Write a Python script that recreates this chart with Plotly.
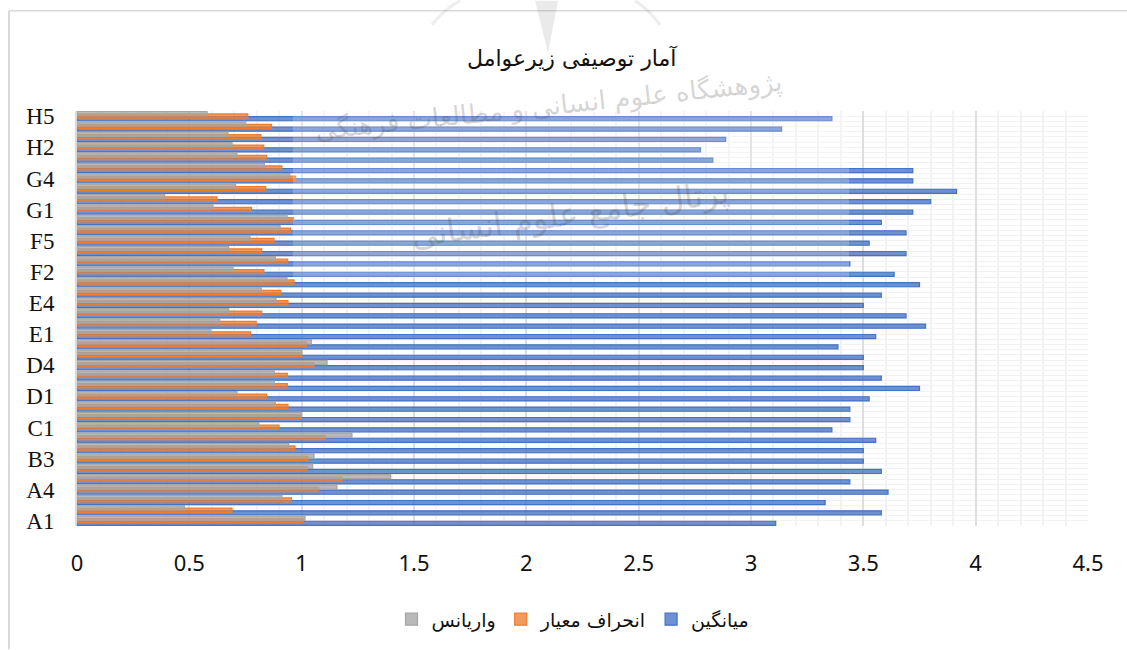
import plotly.graph_objects as go

categories = ["A1","A2","A3","A4","B1","B2","B3","B4","B5","C1","C2","C3","D1","D2","D3","D4","D5","D6",
              "E1","E2","E3","E4","E5","F1","F2","F3","F4","F5","F6","F7","G1","G2","G3","G4","G5","H1","H2","H3","H4","H5"]
tick_labels = ["A1","A4","B3","C1","D1","D4","E1","E4","F2","F5","G1","G4","H2","H5"]
mean_values = [3.11,3.58,3.33,3.61,3.44,3.58,3.50,3.50,3.555,3.36,3.44,3.44,3.526,3.75,3.58,3.50,3.50,3.387,
               3.555,3.777,3.69,3.50,3.58,3.75,3.637,3.44,3.69,3.526,3.69,3.58,3.72,3.80,3.915,3.72,3.72,2.83,2.775,2.887,3.136,3.36]
std_values = [1.007,0.69,0.955,1.076,1.18,1.024,1.028,0.97,1.105,0.899,0.998,0.939,0.844,0.936,0.936,1.055,1.0,1.021,
              0.772,0.797,0.822,0.939,0.907,0.966,0.832,0.938,0.822,0.877,0.95,0.964,0.777,0.623,0.84,0.973,0.912,0.844,0.831,0.819,0.866,0.76]
var_values = [1.015,0.478,0.912,1.157,1.396,1.049,1.055,0.942,1.224,0.809,0.998,0.883,0.712,0.878,0.878,1.113,1.0,1.043,
              0.596,0.635,0.675,0.886,0.82,0.935,0.694,0.883,0.675,0.77,0.904,0.935,0.605,0.39,0.706,0.947,0.834,0.712,0.69,0.672,0.751,0.579]
title_text = "آمار توصیفی زیرعوامل"
series_names = ["میانگین", "انحراف معیار", "واریانس"]
watermark_1 = "پژوهشگاه علوم انسانی و مطالعات فرهنگی"
watermark_2 = "پرتال جامع علوم انسانی"

W, H = 1127, 650
L, R, T, B = 77, 1088, 110.5, 526.5
def px(x): return (x - L) / (R - L)
def py(y): return (B - y) / (B - T)

y_pos = list(range(len(categories)))
tick_pos = [categories.index(c) for c in tick_labels]

fig = go.Figure()
styles = [("rgba(68,114,196,0.78)", "#4472C4", -0.44),
          ("rgba(237,125,49,0.78)", "#ED7D31", -0.18),
          ("rgba(165,165,165,0.78)", "#A5A5A5", 0.06)]
for name, vals, (fill, line, off) in zip(series_names, [mean_values, std_values, var_values], styles):
    fig.add_trace(go.Bar(y=y_pos, x=vals, name=name, orientation="h", width=0.40, offset=off,
                         text=categories, textposition="none",
                         marker=dict(color=fill, line=dict(color=line, width=1.2))))

wm = "rgba(70,70,70,0.24)"
shapes = [
    dict(type="line", xref="paper", yref="paper", x0=px(9), x1=px(9), y0=py(10), y1=py(650),
         line=dict(color="#d9d9d9", width=2), layer="above"),
    dict(type="line", xref="paper", yref="paper", x0=px(9), x1=px(1127), y0=py(10), y1=py(10),
         line=dict(color="#d9d9d9", width=1.5), layer="above"),
    dict(type="rect", xref="paper", yref="paper", x0=px(293), x1=px(849), y0=py(278), y1=py(108),
         fillcolor="rgba(255,255,255,0.2)", line=dict(width=0), layer="above"),
    dict(type="path", xref="paper", yref="paper", layer="above", fillcolor="rgba(80,80,80,0.12)", line=dict(width=0),
         path=f"M {px(535)} {py(0)} L {px(548)} {py(52)} L {px(558)} {py(0)} Z"),
    dict(type="path", xref="paper", yref="paper", layer="above", line=dict(color="rgba(80,80,80,0.10)", width=3),
         path=f"M {px(432)} {py(24)} Q {px(445)} {py(8)} {px(460)} {py(0)}"),
    dict(type="path", xref="paper", yref="paper", layer="above", line=dict(color="rgba(80,80,80,0.10)", width=3),
         path=f"M {px(660)} {py(24)} Q {px(648)} {py(8)} {px(635)} {py(0)}"),
]

def note(text, x, y, size, color, angle=0):
    return dict(text=text, xref="paper", yref="paper", x=px(x), y=py(y), xanchor="center", yanchor="middle",
                showarrow=False, textangle=angle, font=dict(family="DejaVu Sans", size=size, color=color))

fig.update_layout(
    width=W, height=H, autosize=False,
    margin=dict(l=L, r=W - R, t=T, b=H - B, pad=0),
    paper_bgcolor="white", plot_bgcolor="white",
    barmode="overlay", shapes=shapes,
    font=dict(family="Liberation Serif, DejaVu Sans", color="#111111"),
    legend=dict(orientation="h", traceorder="reversed", x=px(573), xanchor="center", y=py(620), yanchor="middle",
                font=dict(family="DejaVu Sans", size=19, color="#111111"), itemclick=False),
    annotations=[
        note(title_text, 572, 57, 22, "#111111"),
        note(watermark_1, 548, 106, 26, wm, -6),
        note(watermark_2, 570, 214, 32, wm, -8),
    ],
    xaxis=dict(range=[0, 4.5], dtick=0.5, tick0=0, showgrid=True, gridcolor="#dedede", gridwidth=1.6,
               zeroline=False, showline=False, ticks="outside", ticklen=18, tickcolor="rgba(0,0,0,0)",
               tickfont=dict(family="Noto Sans", size=22, color="#111111"),
               minor=dict(dtick=0.1, tick0=0, showgrid=True, gridcolor="#f2f2f2", gridwidth=1.5, ticks="")),
    yaxis=dict(range=[-0.5, 39.5], tickmode="array", tickvals=tick_pos, ticktext=tick_labels,
               showgrid=False, zeroline=False, showline=True, linecolor="#d9d9d9", linewidth=2,
               ticks="outside", ticklen=16, tickcolor="rgba(0,0,0,0)",
               tickfont=dict(family="Liberation Serif", size=23, color="#111111"),
               minor=dict(dtick=0.5, tick0=-0.5, tickmode="linear", showgrid=True, gridcolor="#f2f2f2", gridwidth=1.2, ticks="")),
)

fig.write_html("out.html", config={"displayModeBar": False}, post_script="document.body.style.margin='0';")
